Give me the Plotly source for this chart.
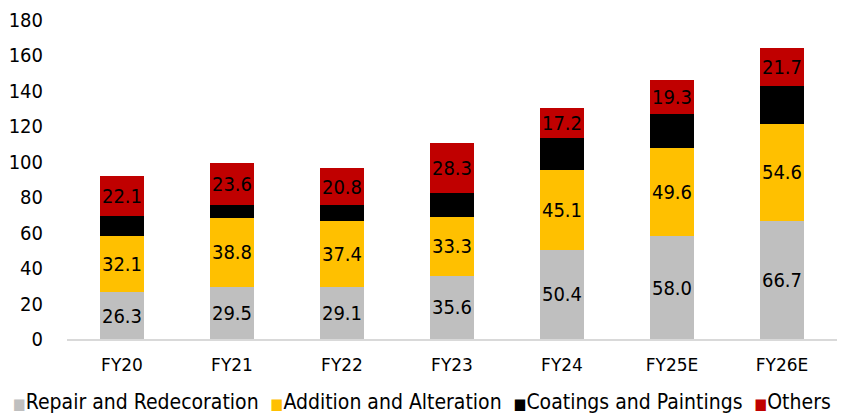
import plotly.graph_objects as go

categories = ["FY20", "FY21", "FY22", "FY23", "FY24", "FY25E", "FY26E"]
repair = [26.3, 29.5, 29.1, 35.6, 50.4, 58.0, 66.7]
addition = [32.1, 38.8, 37.4, 33.3, 45.1, 49.6, 54.6]
coatings = [11.2, 7.4, 9.0, 13.5, 17.8, 19.4, 21.2]
others = [22.1, 23.6, 20.8, 28.3, 17.2, 19.3, 21.7]

series = [
    ("Repair and Redecoration", repair, "#BFBFBF"),
    ("Addition and Alteration", addition, "#FFC000"),
    ("Coatings and Paintings", coatings, "#000000"),
    ("Others", others, "#C00000"),
]

COND = "DejaVu Sans Condensed, DejaVu Sans, sans-serif"
NORM = "DejaVu Sans, sans-serif"

fig = go.Figure()
for name, vals, color in series:
    fig.add_trace(go.Bar(
        x=categories, y=vals, name=name,
        marker=dict(color=color, line=dict(width=0)),
        text=[f"{v:.1f}" for v in vals],
        textposition="inside", insidetextanchor="middle",
        textangle=0, constraintext="none",
        textfont=dict(color="#000000", size=20, family=COND),
        hoverinfo="skip", showlegend=False,
    ))

legend_parts = []
for name, _, color in series:
    legend_parts.append(
        f"<span style='color:{color};font-size:15px'>■</span>{name}")
fig.add_annotation(
    text="&nbsp;&nbsp;".join(legend_parts), xref="paper", yref="paper",
    x=(421.5 - 67) / 770, y=-(402 - 339) / 319, xanchor="center", yanchor="middle",
    showarrow=False, font=dict(size=21, family=COND, color="#000000"),
)

fig.update_layout(
    barmode="stack",
    bargap=0.6,
    width=843, height=417,
    margin=dict(l=67, r=6, t=20, b=78, autoexpand=False),
    plot_bgcolor="white", paper_bgcolor="white",
    font=dict(family=COND, size=17, color="#000000"),
    showlegend=False,
)
fig.update_xaxes(showline=True, linecolor="#D9D9D9", linewidth=2, ticks="",
                 ticklabelstandoff=10, automargin=False,
                 tickfont=dict(size=17, family=NORM), showgrid=False)
fig.update_yaxes(range=[0, 180], dtick=20, showgrid=False, zeroline=False,
                 showline=False, ticks="outside", ticklen=19,
                 tickcolor="rgba(0,0,0,0)", automargin=False,
                 tickfont=dict(size=20, family=COND))

fig.write_html("out.html")
